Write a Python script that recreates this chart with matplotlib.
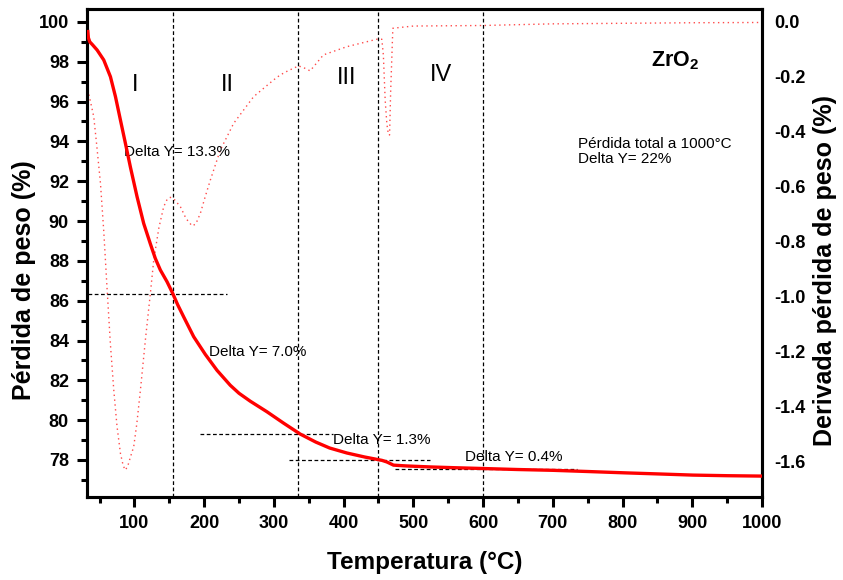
import matplotlib
matplotlib.use("Agg")
import matplotlib.pyplot as plt
from matplotlib.ticker import MultipleLocator, FormatStrFormatter

plt.rcParams['font.family'] = ['Liberation Sans', 'DejaVu Sans']
plt.rcParams['axes.unicode_minus'] = False
plt.rcParams['mathtext.fontset'] = 'custom'
plt.rcParams['mathtext.rm'] = 'Liberation Sans'
plt.rcParams['mathtext.bf'] = 'Liberation Sans:bold'

# TGA curve: weight (%) vs temperature (°C)
tga_temp = [33, 34, 36, 40, 46.5, 56, 65.6, 72.8, 79.9, 87.1, 94.3, 103.8,
            113.3, 122.9, 130, 137.2, 146.8, 155, 162, 170.6, 185, 201.7,
            218.5, 237.5, 250, 266.2, 290.1, 313.9, 337.8, 360, 380, 404.7,
            430, 447.7, 455, 462, 468, 471.5, 490, 524, 560, 600.4, 650, 700,
            750, 805.9, 850, 901, 950, 1000]
tga_weight = [99.6, 99.2, 99.0, 98.85, 98.59, 98.09, 97.25, 96.25, 95.08,
              93.9, 92.7, 91.22, 89.88, 88.85, 88.12, 87.54, 86.95, 86.36,
              85.8, 85.19, 84.19, 83.3, 82.5, 81.75, 81.35, 80.95, 80.42,
              79.85, 79.3, 78.9, 78.6, 78.35, 78.15, 78.03, 77.98, 77.9,
              77.8, 77.74, 77.7, 77.65, 77.61, 77.57, 77.52, 77.48, 77.42,
              77.35, 77.3, 77.24, 77.21, 77.19]

# DTG curve: derivative of weight loss (%) vs temperature (°C)
dtg_temp = [33, 37, 41.7, 46, 51.3, 56, 60.9, 65.5, 70.4, 75, 80, 84, 87.1,
            90.5, 94, 99, 103.5, 108.6, 116, 122.9, 127.7, 135, 142, 147,
            151.6, 158, 165.9, 174, 182.7, 188, 194.6, 201, 208.9, 223.2,
            242.3, 270.9, 299.6, 309, 320, 335.4, 344, 352, 371, 404.7, 447.7,
            454.8, 457, 459.6, 462, 464.3, 465.9, 467.5, 470.6, 500, 600, 700,
            800, 900, 1000]
dtg_value = [-0.247, -0.29, -0.345, -0.45, -0.587, -0.76, -0.975, -1.17,
             -1.339, -1.47, -1.57, -1.615, -1.63, -1.615, -1.585, -1.545,
             -1.46, -1.339, -1.15, -0.987, -0.866, -0.75, -0.672, -0.645,
             -0.638, -0.648, -0.672, -0.715, -0.742, -0.735, -0.696, -0.64,
             -0.575, -0.466, -0.369, -0.272, -0.211, -0.193, -0.178, -0.160,
             -0.168, -0.178, -0.120, -0.090, -0.063, -0.063, -0.12, -0.284,
             -0.37, -0.411, -0.411, -0.25, -0.023, -0.015, -0.013, -0.007,
             -0.005, -0.003, -0.002]

# Stage boundaries (°C)
stage_bounds = [155, 335, 449, 600]
stage_labels = ['I', 'II', 'III', 'IV']
stage_label_x = [101.4, 233, 404.7, 540]
stage_label_y = [96.83, 96.83, 97.19, 97.34]

# Reference levels used for the step heights: (weight, T start, T end)
level_y = [86.35, 79.3, 78.02, 77.57]
level_x0 = [33, 194.6, 322, 474]
level_x1 = [233, 385, 524, 735]

delta_texts = ['Delta Y= 13.3%', 'Delta Y= 7.0%', 'Delta Y= 1.3%', 'Delta Y= 0.4%']
delta_x = [85.7, 207.4, 385.1, 574.2]
delta_y = [93.47, 83.43, 79.0, 78.14]

fig = plt.figure(figsize=(8.43, 5.8), dpi=100)
ax = fig.add_axes([87 / 843, 83 / 580, 675 / 843, 488 / 580])
ax2 = ax.twinx()

ax.set_xlim(32, 1000)
ax.set_ylim(76.14, 100.65)
ax2.set_ylim(-1.728, 0.047)

ax2.plot(dtg_temp, dtg_value, color='#ff4a4a', linestyle=(0, (1, 2.5)),
         lw=1.0, zorder=1)

for xb in stage_bounds:
    ax.axvline(xb, color='black', lw=0.9, linestyle=(0, (3, 2)), zorder=2)
for yv, x0, x1 in zip(level_y, level_x0, level_x1):
    ax.plot([x0, x1], [yv, yv], color='black', lw=0.9, linestyle=(0, (3, 2)),
            zorder=2)

ax.set_zorder(ax2.get_zorder() + 1)
ax.patch.set_visible(False)
ax.plot(tga_temp, tga_weight, color='#ff0000', lw=2.4, zorder=5,
        solid_capstyle='butt', solid_joinstyle='round')

for lab, lx, ly in zip(stage_labels, stage_label_x, stage_label_y):
    ax.text(lx, ly, lab, fontsize=17, ha='center', va='center')
for t, tx, ty in zip(delta_texts, delta_x, delta_y):
    ax.text(tx, ty, t, fontsize=11, ha='left', va='center')
ax.text(736, 93.49, 'Pérdida total a 1000°C\nDelta Y= 22%', fontsize=11,
        ha='left', va='center', linespacing=1.15)
ax.text(840.7, 98.04, r'ZrO$_{\mathbf{2}}$', fontsize=15.5, fontweight='bold',
        ha='left', va='center')

# Axes styling
for a in (ax, ax2):
    for sp in a.spines.values():
        sp.set_linewidth(2.2)

ax.xaxis.set_major_locator(MultipleLocator(100))
ax.xaxis.set_minor_locator(MultipleLocator(50))
ax.yaxis.set_major_locator(MultipleLocator(2))
ax.yaxis.set_minor_locator(MultipleLocator(1))
ax.tick_params(which='major', direction='out', length=7, width=2.2,
               labelsize=13, pad=6)
ax.tick_params(which='minor', direction='out', length=4, width=2.2)
ax.tick_params(axis='both', which='both', top=False, right=False)
for lbl in ax.get_xticklabels() + ax.get_yticklabels():
    lbl.set_fontweight('bold')

ax2.yaxis.set_major_locator(MultipleLocator(0.2))
ax2.yaxis.set_major_formatter(FormatStrFormatter('%.1f'))
ax2.tick_params(axis='y', which='both', length=0, labelsize=13, pad=9)
for lbl in ax2.get_yticklabels():
    lbl.set_fontweight('bold')

ax.set_xlabel('Temperatura (°C)', fontsize=17.5, fontweight='bold')
ax.xaxis.set_label_coords(0.5007, -0.11)
ax.set_ylabel('Pérdida de peso (%)', fontsize=18, fontweight='bold')
ax.yaxis.set_label_coords(-0.0756, 0.445)
ax2.set_ylabel('Derivada pérdida de peso (%)', fontsize=18, fontweight='bold',
               rotation=90)
ax2.yaxis.set_label_coords(1.0756, 0.465)

fig.savefig('out.png', dpi=100)
